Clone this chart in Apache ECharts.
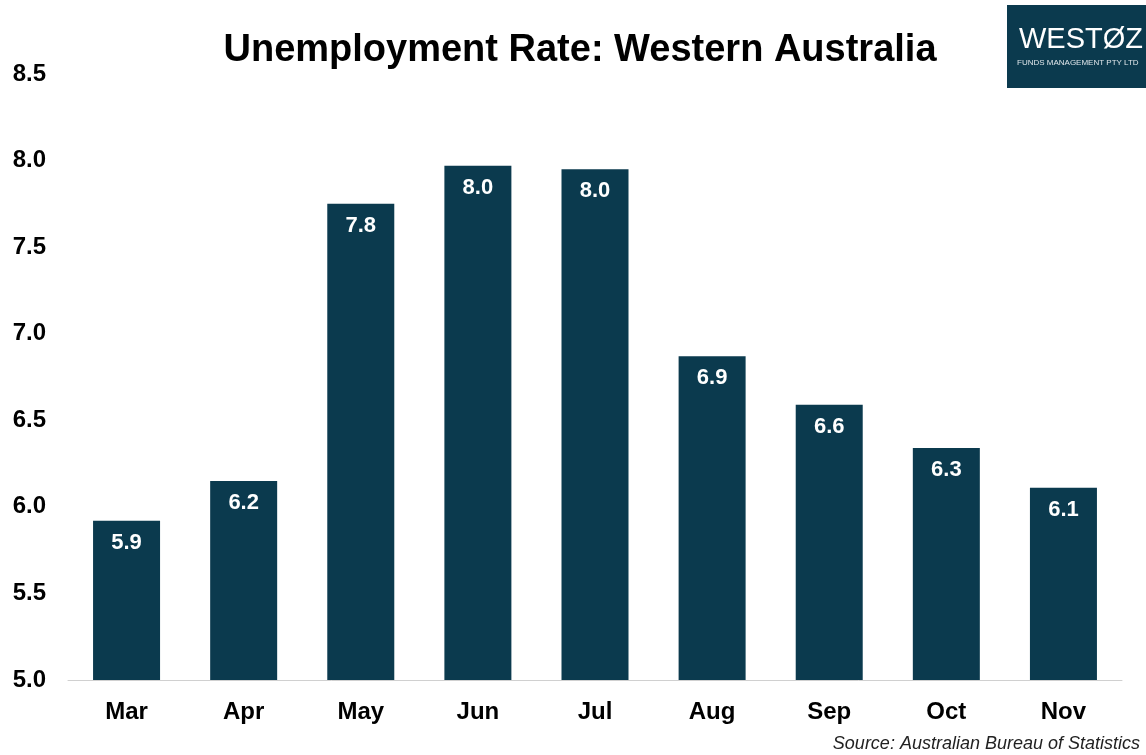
<!DOCTYPE html>
<html>
<head>
<meta charset="utf-8">
<style>
  html, body { margin: 0; padding: 0; background: #fff; }
  #chart { width: 1146px; height: 755px; }
</style>
<script src="https://cdn.jsdelivr.net/npm/echarts@6/dist/echarts.min.js"></script>
</head>
<body>
<div id="chart"></div>
<script>
// data
const months = ['Mar', 'Apr', 'May', 'Jun', 'Jul', 'Aug', 'Sep', 'Oct', 'Nov'];
const rates = [5.92, 6.15, 7.75, 7.97, 7.95, 6.87, 6.59, 6.34, 6.11];

const barColor = '#0b3a4e';
const font = 'Arial, "Liberation Sans", sans-serif';

const chart = echarts.init(document.getElementById('chart'));
chart.setOption({
  animation: false,
  backgroundColor: '#fff',
  title: {
    text: 'Unemployment Rate: Western Australia',
    left: 575,
    textAlign: 'center',
    top: 27,
    textStyle: {
      fontFamily: font,
      fontSize: 38,
      fontWeight: 'bold',
      color: '#000',
    },
  },
  grid: {
    left: 68,
    right: 24,
    top: 74,
    bottom: 75,
  },
  xAxis: {
    type: 'category',
    data: months,
    axisLine: { lineStyle: { color: '#d0d0d0', width: 1 } },
    axisTick: { show: false },
    axisLabel: {
      margin: 20,
      fontFamily: font,
      fontSize: 24,
      fontWeight: 'bold',
      color: '#000',
    },
  },
  yAxis: {
    type: 'value',
    min: 5.0,
    max: 8.5,
    interval: 0.5,
    splitLine: { show: false },
    axisLine: { show: false },
    axisTick: { show: false },
    axisLabel: {
      margin: 22,
      fontFamily: font,
      fontSize: 24,
      fontWeight: 'bold',
      color: '#000',
      formatter: (v) => v.toFixed(1),
    },
  },
  series: [
    {
      type: 'bar',
      data: rates,
      barWidth: 67,
      itemStyle: { color: barColor },
      label: {
        show: true,
        position: 'insideTop',
        distance: 11,
        fontFamily: font,
        fontSize: 22,
        fontWeight: 'bold',
        color: '#fff',
        formatter: (p) => p.value.toFixed(1),
      },
    },
  ],
  graphic: [
    // logo box
    {
      type: 'rect',
      left: 1007,
      top: 5,
      shape: { width: 139, height: 83 },
      style: { fill: barColor },
    },
    {
      type: 'text',
      left: 1019,
      top: 25,
      style: {
        text: 'WESTØZ',
        fill: '#fff',
        font: '29px ' + font,
      },
    },
    {
      type: 'text',
      left: 1017,
      top: 59,
      style: {
        text: 'FUNDS MANAGEMENT PTY LTD',
        fill: '#dfe6ea',
        font: '8px ' + font,
      },
    },
    // source note
    {
      type: 'text',
      right: 6,
      top: 735,
      style: {
        text: 'Source: Australian Bureau of Statistics',
        fill: '#222',
        font: 'italic 18px ' + font,
      },
    },
  ],
});
</script>
</body>
</html>
